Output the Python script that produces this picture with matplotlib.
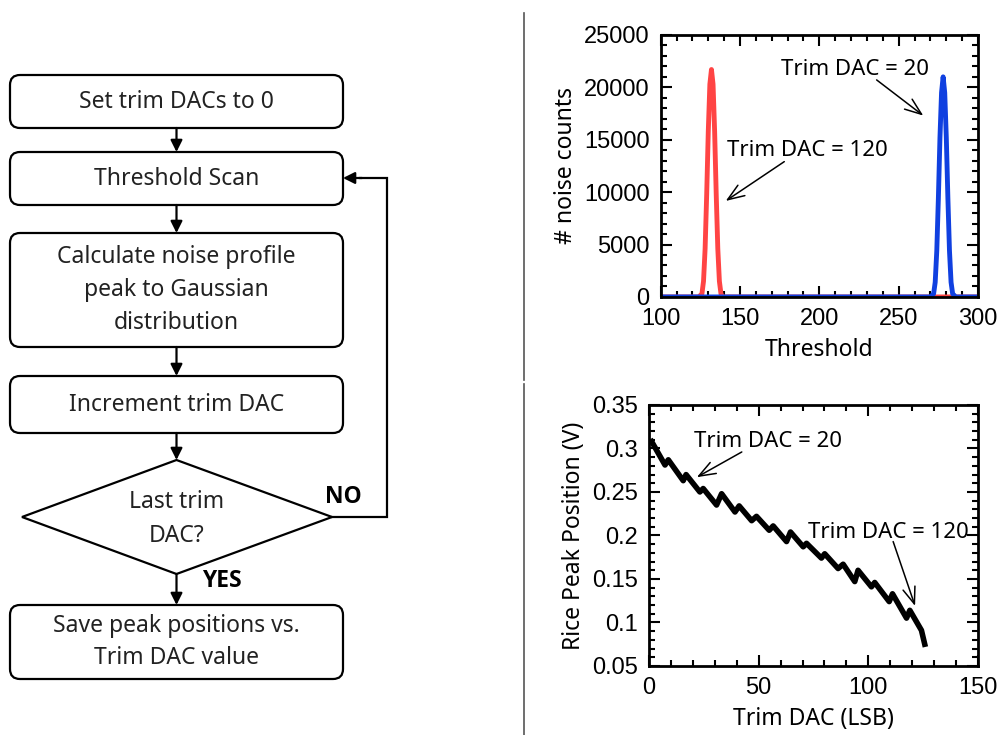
import matplotlib.pyplot as plt
from matplotlib.patches import FancyBboxPatch, Polygon
from matplotlib.ticker import MultipleLocator

# --- data ---
# threshold scan (noise counts vs threshold)
red_thr = [100, 124, 126, 127, 128, 129, 130, 131, 132, 133, 134, 135, 136, 137, 138, 139, 141, 300]
red_cnt = [0, 0, 300, 1500, 4600, 9800, 15800, 20300, 21700, 20300, 15800, 9800, 4600, 1500, 300, 0, 0, 0]
blue_thr = [100, 270, 272, 273, 274, 275, 276, 277, 278, 279, 280, 281, 282, 283, 284, 286, 300]
blue_cnt = [0, 0, 300, 1400, 4400, 9400, 15200, 19500, 21000, 19500, 15200, 9400, 4400, 1400, 300, 0, 0]

# rice peak position vs trim DAC
trim_dac = [1.2, 7.3, 8.8, 15.6, 16.9, 23.2, 24.7, 30.8, 33.1, 39.2, 41.1, 46.8, 49.0,
            54.8, 56.6, 62.7, 64.5, 70.3, 71.8, 78.6, 80.1, 86.2, 88.5, 93.8, 95.3,
            101.4, 102.9, 109.5, 111.0, 117.4, 118.9, 124.2, 125.7]
peak_pos = [0.308, 0.281, 0.287, 0.263, 0.270, 0.250, 0.254, 0.235, 0.248, 0.227, 0.234,
            0.217, 0.222, 0.206, 0.211, 0.193, 0.204, 0.187, 0.191, 0.174, 0.179, 0.162,
            0.167, 0.147, 0.160, 0.141, 0.146, 0.124, 0.133, 0.105, 0.114, 0.091, 0.075]

# flowchart steps
steps = ["Set trim DACs to 0", "Threshold Scan",
         "Calculate noise profile\npeak to Gaussian\ndistribution",
         "Increment trim DAC", "Save peak positions vs.\nTrim DAC value"]
decision = "Last trim\nDAC?"

fig = plt.figure(figsize=(9.98, 7.35), dpi=100)

# ---------------- flowchart (pixel coordinates) ----------------
fc = fig.add_axes([0, 0, 1, 1])
fc.set_xlim(0, 998)
fc.set_ylim(735, 0)
fc.axis("off")

box_font = dict(family="Noto Sans", size=16.5, color="#222222")
boxes = [(75, 128), (152, 205), (233, 347), (376, 433), (605, 679)]
bx0, bx1 = 10, 343
cx = (bx0 + bx1) / 2
for (y0, y1), label in zip(boxes, steps):
    fc.add_patch(FancyBboxPatch((bx0, y0), bx1 - bx0, y1 - y0,
                                boxstyle="round,pad=0,rounding_size=10",
                                fc="white", ec="black", lw=1.6))
    fc.text(cx, (y0 + y1) / 2, label, ha="center", va="center",
            linespacing=1.5, **box_font)

# diamond
d_top, d_mid, d_bot = 460, 517, 574
fc.add_patch(Polygon([(cx, d_top), (332, d_mid), (cx, d_bot), (22, d_mid)],
                     closed=True, fc="white", ec="black", lw=1.6))
fc.text(cx, d_mid + 2, decision, ha="center", va="center", linespacing=1.6, **box_font)

arrow_kw = dict(arrowstyle="-|>,head_length=0.5,head_width=0.25", color="black", lw=1.6,
                shrinkA=0, shrinkB=0, mutation_scale=14)
for y_from, y_to in [(128, 152), (205, 233), (347, 376), (433, d_top), (d_bot, 605)]:
    fc.annotate("", xy=(cx, y_to), xytext=(cx, y_from), arrowprops=arrow_kw)

# loop back (NO)
fc.plot([332, 387, 387, 360], [d_mid, d_mid, 178, 178], color="black", lw=1.6,
        solid_joinstyle="miter")
fc.annotate("", xy=(343, 178), xytext=(362, 178), arrowprops=arrow_kw)
bold_font = dict(family=["Open Sans", "DejaVu Sans"], size=16.5, weight="bold")
fc.text(343, 497, "NO", ha="center", va="center", **bold_font)
fc.text(222, 581, "YES", ha="center", va="center", **bold_font)

# divider
fc.plot([524, 524], [13, 380], color="#555555", lw=1.2)
fc.plot([524, 524], [384, 735], color="#555555", lw=1.2)

# ---------------- plots ----------------
tick_font = "Liberation Sans"
label_font = dict(family="Noto Sans", size=16.5)
ann_font = dict(family="Noto Sans", size=16)
ann_arrow = dict(arrowstyle="->,head_length=1.2,head_width=0.45", color="black",
                 lw=1.1, shrinkA=0, shrinkB=0)


def style_axes(ax):
    for s in ax.spines.values():
        s.set_linewidth(2)
    ax.tick_params(which="both", direction="in", top=True, right=True, width=1.5)
    ax.tick_params(which="major", length=8, labelsize=17, pad=8)
    ax.tick_params(which="minor", length=4)
    for lab in ax.get_xticklabels() + ax.get_yticklabels():
        lab.set_family(tick_font)


# top: threshold scan
ax1 = fig.add_axes([0.662, 0.596, 0.318, 0.3565])
ax1.plot(red_thr, red_cnt, color="#ff4444", lw=3.5)
ax1.plot(blue_thr, blue_cnt, color="#1040e0", lw=3.5)
ax1.set_xlim(100, 300)
ax1.set_ylim(0, 25000)
ax1.set_xticks([100, 150, 200, 250, 300])
ax1.set_yticks([0, 5000, 10000, 15000, 20000, 25000])
ax1.xaxis.set_minor_locator(MultipleLocator(10))
ax1.yaxis.set_minor_locator(MultipleLocator(1000))
style_axes(ax1)
ax1.set_xlabel("Threshold", labelpad=6, **label_font)
ax1.set_ylabel("# noise counts", labelpad=4, **label_font)
ax1.annotate("", xy=(265.5, 17300), xytext=(236.1, 20706), arrowprops=ann_arrow)
ax1.text(222.4, 21660, "Trim DAC = 20", ha="center", va="center", **ann_font)
ax1.annotate("", xy=(141.0, 9160), xytext=(177.9, 12910), arrowprops=ann_arrow)
ax1.text(192.2, 13960, "Trim DAC = 120", ha="center", va="center", **ann_font)

# bottom: rice peak position
ax2 = fig.add_axes([0.6503, 0.0939, 0.3297, 0.3551])
ax2.plot(trim_dac, peak_pos, color="black", lw=4)
ax2.set_xlim(0, 150)
ax2.set_ylim(0.05, 0.35)
ax2.set_xticks([0, 50, 100, 150])
ax2.set_yticks([0.05, 0.1, 0.15, 0.2, 0.25, 0.3, 0.35])
ax2.set_yticklabels(["0.05", "0.1", "0.15", "0.2", "0.25", "0.3", "0.35"])
ax2.xaxis.set_minor_locator(MultipleLocator(10))
ax2.yaxis.set_minor_locator(MultipleLocator(0.01))
style_axes(ax2)
ax2.set_xlabel("Trim DAC (LSB)", labelpad=6, **label_font)
ax2.set_ylabel("Rice Peak Position (V)", labelpad=4, **label_font)
ax2.annotate("", xy=(21.8, 0.267), xytext=(42.3, 0.296), arrowprops=ann_arrow)
ax2.text(54.3, 0.3075, "Trim DAC = 20", ha="center", va="center", **ann_font)
ax2.annotate("", xy=(121.3, 0.119), xytext=(111.3, 0.193), arrowprops=ann_arrow)
ax2.text(109.2, 0.204, "Trim DAC = 120", ha="center", va="center", **ann_font)

fig.savefig("out.png", dpi=100)
